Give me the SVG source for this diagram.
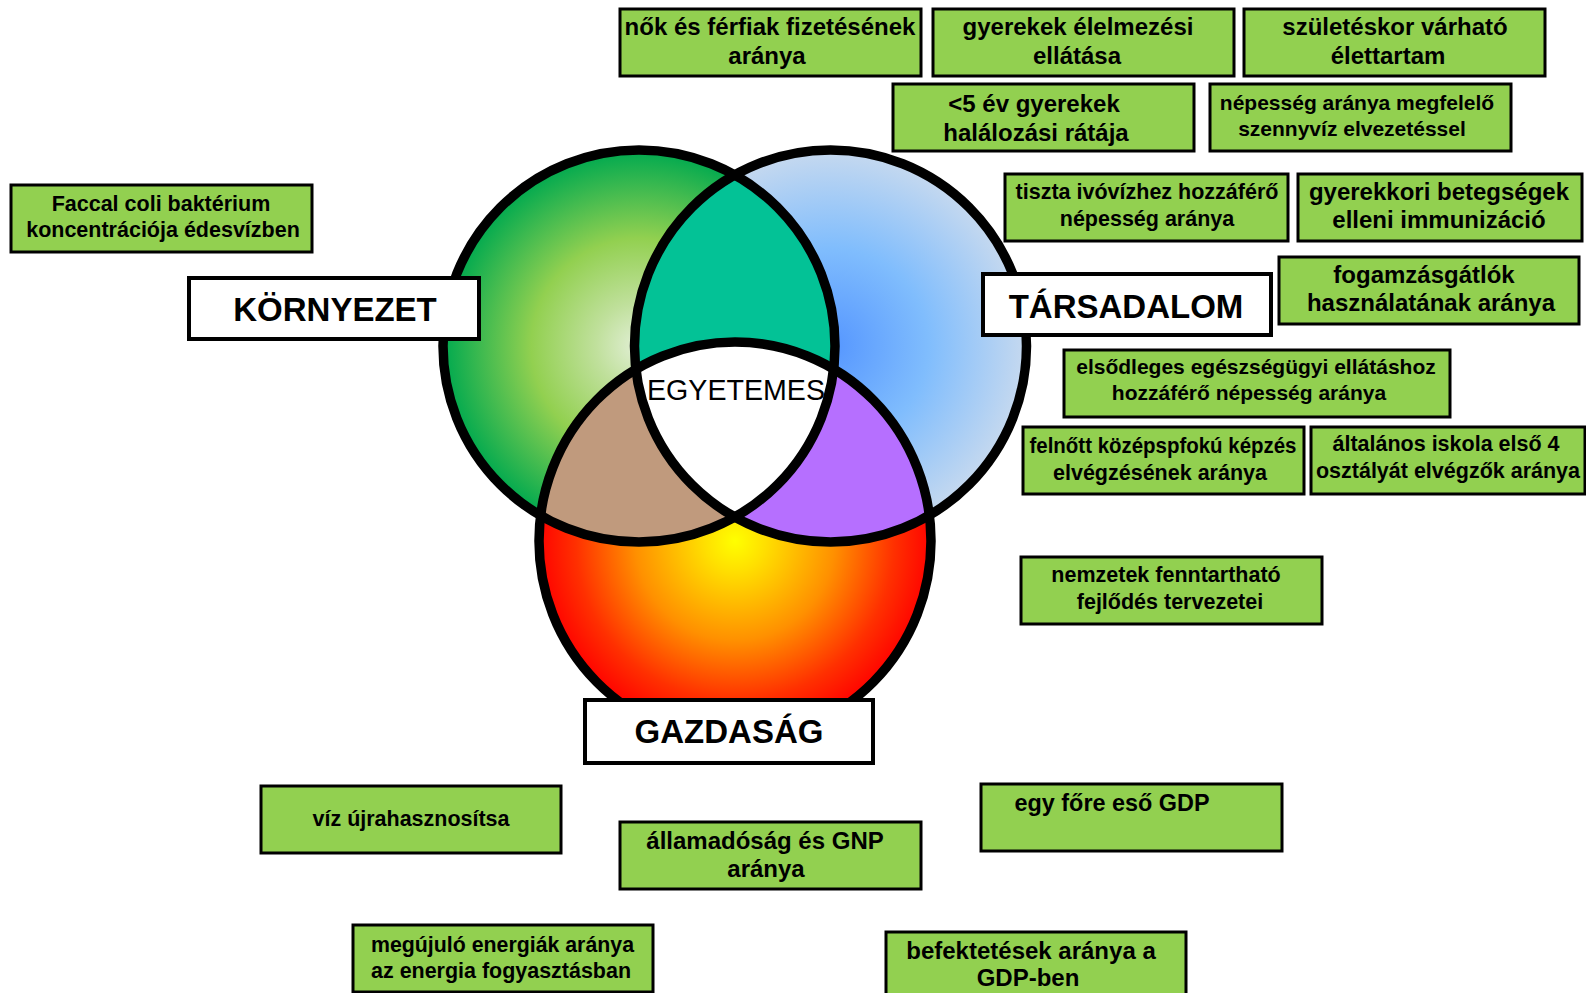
<svg xmlns="http://www.w3.org/2000/svg" width="1586" height="993" viewBox="0 0 1586 993">
  <style>
    .bx { fill: #92d050; stroke: #000; stroke-width: 3; }
    .lb { fill: #fff; stroke: #000; stroke-width: 4; }
    .t { font-family: "Liberation Sans", Arial, sans-serif; font-weight: bold; font-size: 24px; text-anchor: middle; fill: #000; }
    .s21 { font-size: 21px; }
    .s215 { font-size: 21.5px; }
    .s22 { font-size: 22px; }
    .big { font-size: 33px; }
    .ring { fill: none; stroke: #000; stroke-width: 9.5; }
  </style>
  <defs>
    <radialGradient id="gGreen" gradientUnits="userSpaceOnUse" cx="639" cy="346" r="196">
      <stop offset="0" stop-color="#e2efd6"/>
      <stop offset="0.22" stop-color="#c0e09c"/>
      <stop offset="0.55" stop-color="#92d050"/>
      <stop offset="1" stop-color="#00a94f"/>
    </radialGradient>
    <radialGradient id="gBlue" gradientUnits="userSpaceOnUse" cx="830.5" cy="346" r="196">
      <stop offset="0" stop-color="#5596ff"/>
      <stop offset="0.5" stop-color="#80bdfd"/>
      <stop offset="1" stop-color="#c6d9ef"/>
    </radialGradient>
    <radialGradient id="gRed" gradientUnits="userSpaceOnUse" cx="735" cy="541" r="199">
      <stop offset="0" stop-color="#ffff00"/>
      <stop offset="0.15" stop-color="#ffe000"/>
      <stop offset="0.5" stop-color="#ff9000"/>
      <stop offset="0.8" stop-color="#ff3000"/>
      <stop offset="1" stop-color="#ff0000"/>
    </radialGradient>
    <circle id="cGreen" cx="639" cy="346" r="196"/>
    <circle id="cBlue" cx="830.5" cy="346" r="196"/>
    <ellipse id="cRed" cx="735" cy="541" rx="196" ry="199"/>
    <clipPath id="cpGreen"><use href="#cGreen"/></clipPath>
    <clipPath id="cpBlue"><use href="#cBlue"/></clipPath>
  </defs>

  <rect width="1586" height="993" fill="#fff"/>

  <!-- three-circle Venn: environment, society, economy -->
  <g id="venn">
    <use href="#cGreen" fill="url(#gGreen)"/>
    <use href="#cBlue" fill="url(#gBlue)"/>
    <use href="#cRed" fill="url(#gRed)"/>
    <use href="#cBlue" fill="#03c296" clip-path="url(#cpGreen)"/>
    <use href="#cRed" fill="#c09a7d" clip-path="url(#cpGreen)"/>
    <use href="#cRed" fill="#b66fff" clip-path="url(#cpBlue)"/>
    <g clip-path="url(#cpGreen)">
      <use href="#cRed" fill="#fff" clip-path="url(#cpBlue)"/>
    </g>
    <use href="#cGreen" class="ring"/>
    <use href="#cBlue" class="ring"/>
    <use href="#cRed" class="ring"/>
    <text x="736" y="400" font-family="Liberation Sans, Arial, sans-serif" font-size="30" text-anchor="middle" textLength="178" lengthAdjust="spacingAndGlyphs">EGYETEMES</text>
  </g>

  <!-- pillar labels -->
  <g id="kornyezet">
    <rect class="lb" x="189" y="278" width="290" height="61"/>
    <text class="t big" x="335" y="321">KÖRNYEZET</text>
  </g>
  <g id="tarsadalom">
    <rect class="lb" x="983" y="274" width="288" height="61"/>
    <text class="t big" x="1126" y="318">TÁRSADALOM</text>
  </g>
  <g id="gazdasag">
    <rect class="lb" x="585" y="700" width="288" height="63"/>
    <text class="t big" x="729" y="743">GAZDASÁG</text>
  </g>

  <!-- indicator boxes -->
  <g id="fizetes">
    <rect class="bx" x="620" y="9" width="301" height="67"/>
    <text class="t" x="770" y="35">nők és férfiak fizetésének</text>
    <text class="t" x="767" y="64">aránya</text>
  </g>
  <g id="elelmezes">
    <rect class="bx" x="933" y="9" width="301" height="67"/>
    <text class="t" x="1078" y="35">gyerekek élelmezési</text>
    <text class="t" x="1077" y="64">ellátása</text>
  </g>
  <g id="elettartam">
    <rect class="bx" x="1244" y="9" width="301" height="67"/>
    <text class="t" x="1395" y="35">születéskor várható</text>
    <text class="t" x="1388" y="64">élettartam</text>
  </g>
  <g id="halalozas">
    <rect class="bx" x="893" y="84" width="301" height="67"/>
    <text class="t" x="1034" y="112">&lt;5 év gyerekek</text>
    <text class="t" x="1036" y="141">halálozási rátája</text>
  </g>
  <g id="szennyviz">
    <rect class="bx" x="1210" y="84" width="301" height="67"/>
    <text class="t s21" x="1357" y="110">népesség aránya megfelelő</text>
    <text class="t s21" x="1352" y="136">szennyvíz elvezetéssel</text>
  </g>
  <g id="faccal">
    <rect class="bx" x="11" y="185" width="301" height="67"/>
    <text class="t s215" x="161" y="211">Faccal coli baktérium</text>
    <text class="t s215" x="163" y="237">koncentrációja édesvízben</text>
  </g>
  <g id="ivoviz">
    <rect class="bx" x="1005" y="174" width="283" height="67"/>
    <text class="t s215" x="1147" y="199">tiszta ivóvízhez hozzáférő</text>
    <text class="t s215" x="1147" y="226">népesség aránya</text>
  </g>
  <g id="immunizacio">
    <rect class="bx" x="1298" y="174" width="284" height="67"/>
    <text class="t" x="1439" y="200">gyerekkori betegségek</text>
    <text class="t" x="1439" y="228">elleni immunizáció</text>
  </g>
  <g id="fogamzas">
    <rect class="bx" x="1279" y="257" width="300" height="67"/>
    <text class="t" x="1424" y="283">fogamzásgátlók</text>
    <text class="t" x="1431" y="311">használatának aránya</text>
  </g>
  <g id="egeszsegugy">
    <rect class="bx" x="1064" y="350" width="386" height="67"/>
    <text class="t s21" x="1256" y="374">elsődleges egészségügyi ellátáshoz</text>
    <text class="t s21" x="1249" y="400">hozzáférő népesség aránya</text>
  </g>
  <g id="kozepfoku">
    <rect class="bx" x="1023" y="427" width="281" height="67"/>
    <text class="t s215" x="1163" y="453" textLength="267" lengthAdjust="spacingAndGlyphs">felnőtt középspfokú képzés</text>
    <text class="t s215" x="1160" y="480">elvégzésének aránya</text>
  </g>
  <g id="altalanos">
    <rect class="bx" x="1311" y="427" width="274" height="67"/>
    <text class="t s215" x="1446" y="451">általános iskola első 4</text>
    <text class="t s215" x="1448" y="478">osztályát elvégzők aránya</text>
  </g>
  <g id="tervezetek">
    <rect class="bx" x="1021" y="557" width="301" height="67"/>
    <text class="t s215" x="1166" y="582">nemzetek fenntartható</text>
    <text class="t s215" x="1170" y="609">fejlődés tervezetei</text>
  </g>
  <g id="viz">
    <rect class="bx" x="261" y="786" width="300" height="67"/>
    <text class="t s22" x="411" y="826" textLength="197" lengthAdjust="spacingAndGlyphs">víz újrahasznosítsa</text>
  </g>
  <g id="allamadossag">
    <rect class="bx" x="620" y="822" width="301" height="67"/>
    <text class="t" x="765" y="849">államadóság és GNP</text>
    <text class="t" x="766" y="877">aránya</text>
  </g>
  <g id="gdp">
    <rect class="bx" x="981" y="784" width="301" height="67"/>
    <text class="t" x="1112" y="811" textLength="195" lengthAdjust="spacingAndGlyphs">egy főre eső GDP</text>
  </g>
  <g id="megujulo">
    <rect class="bx" x="353" y="925" width="300" height="67"/>
    <text class="t s22" x="371" y="952" style="text-anchor:start" textLength="263" lengthAdjust="spacingAndGlyphs">megújuló energiák aránya</text>
    <text class="t s22" x="371" y="978" style="text-anchor:start" textLength="260" lengthAdjust="spacingAndGlyphs">az energia fogyasztásban</text>
  </g>
  <g id="befektetesek">
    <rect class="bx" x="886" y="932" width="300" height="67"/>
    <text class="t" x="1031" y="959">befektetések aránya a</text>
    <text class="t" x="1028" y="986">GDP-ben</text>
  </g>
</svg>
